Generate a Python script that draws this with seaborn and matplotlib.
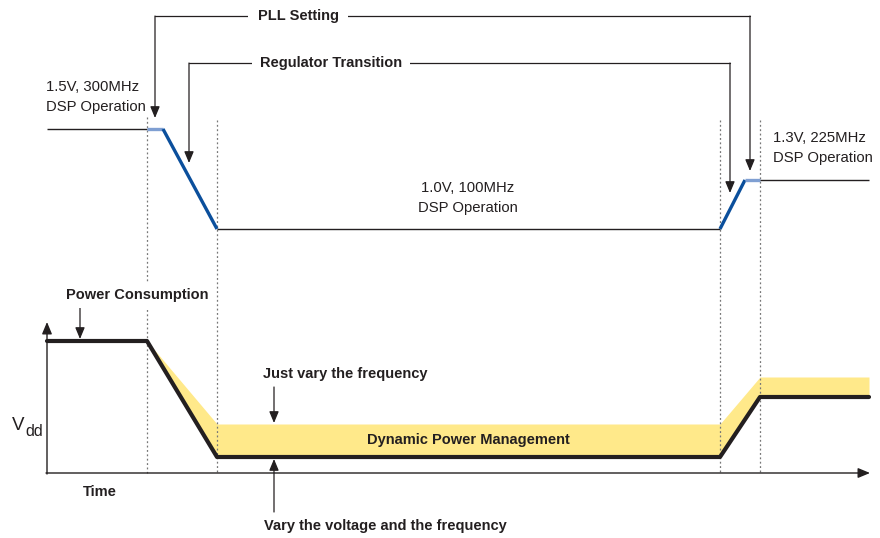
import matplotlib
matplotlib.use("Agg")
import matplotlib.pyplot as plt
import seaborn as sns
import numpy as np

# ---------------- data (diagram units: x = time position, y = vertical position, top-down) -----
# top panel: supply-voltage trace
volt_t = [47, 147, 163, 217, 720, 745, 760, 869]
volt_y = [129, 129, 129, 229, 229, 180, 180, 180]
# segment kinds: 0 = steady, 1 = PLL setting, 2 = regulator transition
volt_kind = [0, 1, 2, 0, 2, 1, 0]

# bottom panel: power consumption
power_t = [47, 147, 217, 720, 760, 869]
power_dvfs = [341, 341, 457, 457, 397, 397]     # vary voltage and frequency
power_freq = [341, 341, 424, 424, 377, 377]     # just vary the frequency

dotted_x = [147, 217, 720, 760]

# ---------------- figure ----------------
sns.set_theme(style="white")
plt.rcParams['font.family'] = ['Liberation Sans Narrow', 'Liberation Sans', 'DejaVu Sans']

fig = plt.figure(figsize=(8.8, 5.38), dpi=100)
ax = fig.add_axes([0, 0, 1, 1])
ax.set_xlim(0, 880)
ax.set_ylim(538, 0)
ax.axis('off')

TXT = '#231f20'
kind_style = {0: dict(color='#231f20', lw=1.0),
              1: dict(color='#7f9fd2', lw=2.4),
              2: dict(color='#0b4f9c', lw=2.4)}

# voltage trace
for i, k in enumerate(volt_kind):
    sns.lineplot(x=volt_t[i:i + 2], y=volt_y[i:i + 2], ax=ax, sort=False,
                 estimator=None, solid_capstyle='butt', zorder=4, **kind_style[k])

# dotted guides
for x in dotted_x:
    ax.plot([x, x], [117 if x == dotted_x[0] else 120, 473], color='#777777',
            lw=0.9, ls=(0, (1.5, 2.0)), zorder=3)

# yellow band
ax.fill_between(power_t, power_freq, power_dvfs, color='#ffe98a', lw=0, zorder=2)
sns.lineplot(x=power_t, y=power_dvfs, ax=ax, sort=False, estimator=None,
             color='#231f20', lw=3.0, zorder=5)

# axes arrows
arrow_kw = dict(arrowstyle='-|>,head_length=0.6,head_width=0.25', color=TXT, lw=1.0,
                mutation_scale=12, shrinkA=0, shrinkB=0)
ax.annotate('', xy=(47, 322), xytext=(47, 474), arrowprops=arrow_kw, zorder=6)
ax.annotate('', xy=(870, 473), xytext=(46, 473), arrowprops=arrow_kw, zorder=6)

# leader lines with arrows
line_kw = dict(color=TXT, lw=0.9, zorder=6)
lead_kw = dict(arrow_kw, lw=0.9, mutation_scale=11.5)
# PLL setting
ax.plot([155, 750], [16, 16], **line_kw)
ax.annotate('', xy=(155, 118), xytext=(155, 16), arrowprops=lead_kw, zorder=6)
ax.annotate('', xy=(750, 171), xytext=(750, 16), arrowprops=lead_kw, zorder=6)
# regulator transition
ax.plot([189, 730], [63, 63], **line_kw)
ax.annotate('', xy=(189, 163), xytext=(189, 63), arrowprops=lead_kw, zorder=6)
ax.annotate('', xy=(730, 193), xytext=(730, 63), arrowprops=lead_kw, zorder=6)
# bottom arrows
ax.annotate('', xy=(80, 339), xytext=(80, 306), arrowprops=lead_kw, zorder=6)
ax.annotate('', xy=(274, 423), xytext=(274, 387), arrowprops=lead_kw, zorder=6)
ax.annotate('', xy=(274, 459), xytext=(274, 512), arrowprops=lead_kw, zorder=6)

white = dict(facecolor='white', edgecolor='none', pad=4)

def label(x, y, s, bold=False, ha='center', size=10.7, bbox=None):
    ax.text(x, y, s, ha=ha, va='center', color=TXT, fontsize=size,
            fontweight='bold' if bold else 'normal', bbox=bbox, zorder=7,
            linespacing=1.55)

B = 10.5
label(298, 16, 'PLL Setting', bold=True, size=B, bbox=dict(white, pad=7))
label(331, 63, 'Regulator Transition', bold=True, size=B, bbox=dict(white, pad=6))
label(46, 97, '1.5V, 300MHz\nDSP Operation', ha='left')
label(468, 198, '1.0V, 100MHz\nDSP Operation')
label(773, 148, '1.3V, 225MHz\nDSP Operation', ha='left')
label(137, 295, 'Power Consumption', bold=True, size=B, bbox=dict(white, pad=4))
label(345, 374, 'Just vary the frequency', bold=True, size=B)
label(468, 440, 'Dynamic Power Management', bold=True, size=B)
label(385, 526, 'Vary the voltage and the frequency', bold=True, size=B)
label(100, 492, 'Time', bold=True, size=B)
ax.text(12, 425, 'V', ha='left', va='center', color=TXT, fontsize=13.5)
ax.text(25, 431, 'dd', ha='left', va='center', color=TXT, fontsize=11.5)

fig.savefig('out.png', dpi=100)
